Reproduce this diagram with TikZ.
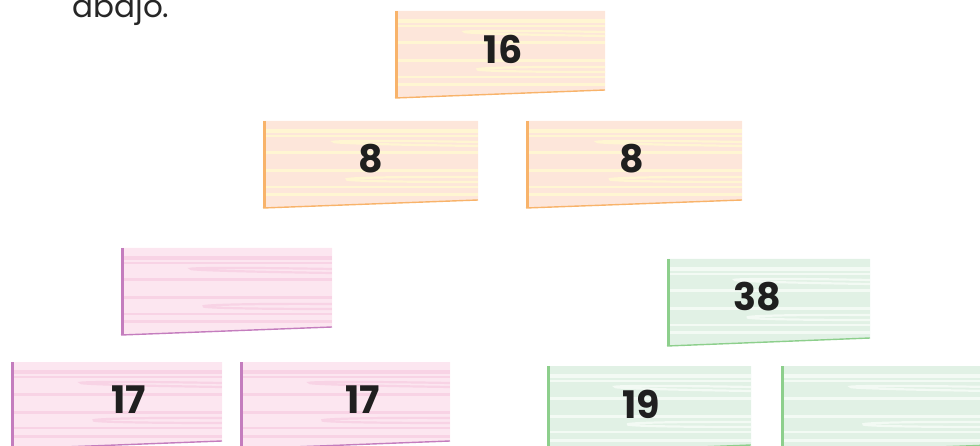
\documentclass[tikz,border=0pt]{standalone}
\usepackage{fontspec}
\setmainfont{Poppins}
\usetikzlibrary{positioning}
\definecolor{orFill}{HTML}{FDE6DA}
\definecolor{orGrain}{HTML}{FFF6D2}
\definecolor{orEdge}{HTML}{F8B36A}
\definecolor{pkFill}{HTML}{FCE6F0}
\definecolor{pkGrain}{HTML}{F8D3E5}
\definecolor{pkEdge}{HTML}{C47DBE}
\definecolor{gnFill}{HTML}{E1F1E5}
\definecolor{gnGrain}{HTML}{F3FAF4}
\definecolor{gnEdge}{HTML}{8DCF8C}

% one wooden plank: name, left x, top y, width, colour prefix, label x, label
\newcommand{\plank}[7]{%
 \fill[#5Fill] (#2,#3) -- ++(#4,0) -- ++(0,79) -- ++(-#4,8) -- cycle;
 \begin{scope}
 \clip (#2,#3) -- ++(#4,0) -- ++(0,79) -- ++(-#4,8) -- cycle;
 \foreach \g/\w in {10/3.5,15/2,32/3,50/3,66/2,74/3} \draw[#5Grain,line width=\w] (#2,#3+\g) -- ++(#4,0);
 \draw[#5Grain,line width=2.2] (#2+#4,#3+21) .. controls (#2+40,#3+18) and (#2+5,#3+22) .. (#2+#4,#3+25);
 \draw[#5Grain,line width=2.2] (#2+#4,#3+56) .. controls (#2+60,#3+55) and (#2+20,#3+61) .. (#2+#4,#3+61);
 \end{scope}
 \draw[#5Edge,line width=2.8] (#2+1.2,#3) -- ++(0,87);
 \draw[#5Edge,line width=1.4] (#2,#3+87) -- ++(#4,-8);
 \node[num] (#1) at (#6,#3+38) {#7};
}

\begin{document}
\begin{tikzpicture}[x=1pt,y=-1pt,
 num/.style={font=\fontsize{38}{42}\selectfont\bfseries,text=black!88},
 txt/.style={font=\fontsize{31}{34}\selectfont,text=black!85}]
\useasboundingbox (0,0) rectangle (980,446);
\node[txt,anchor=base west] (intro) at (69,18) {abajo.};
% orange row
\plank{p16}{395}{11}{210}{or}{503}{16}
\plank{p8a}{263}{121}{215}{or}{371}{8}
\plank{p8b}{526}{121}{216}{or}{632}{8}
% pink
\plank{pBlank}{121}{248}{211}{pk}{0}{}
\plank{p17a}{11}{362}{211}{pk}{129}{17}
\plank{p17b}{240}{362}{210}{pk}{363}{17}
% green
\plank{p38}{667}{259}{203}{gn}{757}{38}
\plank{p19}{547}{366}{204}{gn}{641}{19}
\plank{gBlank}{781}{366}{210}{gn}{0}{}
\end{tikzpicture}
\end{document}
